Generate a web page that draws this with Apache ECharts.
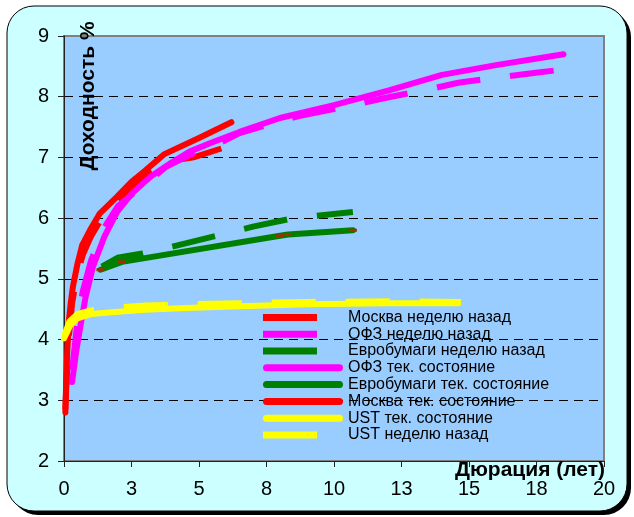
<!DOCTYPE html>
<html>
<head>
<meta charset="utf-8">
<script src="https://cdn.jsdelivr.net/npm/echarts@6/dist/echarts.min.js"></script>
<style>
  html, body { margin: 0; padding: 0; background: #fff; }
  #chart { width: 634px; height: 517px; }
</style>
</head>
<body>
<div id="chart"></div>
<script>
// Yield curves: duration (years) vs yield (%)
const seriesNames = [
  'Москва неделю назад',
  'ОФЗ неделю назад',
  'Евробумаги неделю назад',
  'ОФЗ тек. состояние',
  'Евробумаги тек. состояние',
  'Москва тек. состояние',
  'UST тек. состояние',
  'UST неделю назад'
];

const moscowWeekAgo = [
  [0.05, 2.85], [0.15, 3.9], [0.3, 4.6], [0.5, 5.1], [0.7, 5.4], [1.0, 5.7],
  [1.4, 6.0], [2.0, 6.3], [2.6, 6.55], [3.2, 6.75], [4.0, 6.95], [4.8, 7.0], [6.2, 7.2]
];
const ofzWeekAgo = [
  [0.3, 3.5], [0.5, 4.3], [0.7, 4.8], [1.0, 5.3], [1.5, 5.85], [2.0, 6.2],
  [3.1, 6.6], [3.8, 6.85], [4.7, 7.05], [5.6, 7.2], [6.5, 7.4], [8.0, 7.6],
  [8.7, 7.68], [10.7, 7.86], [11.8, 7.97], [13.7, 8.14], [14.6, 8.23],
  [16.3, 8.33], [17.4, 8.39], [18.7, 8.46]
];
const euroWeekAgo = [
  [1.4, 5.2], [2.0, 5.35], [2.9, 5.42], [4.0, 5.53], [6.0, 5.75], [7.0, 5.86],
  [8.5, 6.0], [10.7, 6.1]
];
const ofzNow = [
  [0.3, 3.3], [0.45, 3.8], [0.6, 4.2], [0.8, 4.7], [1.07, 5.2], [1.5, 5.7],
  [1.96, 6.1], [2.5, 6.4], [3.2, 6.68], [4.0, 6.92], [4.67, 7.1], [5.5, 7.25],
  [6.5, 7.42], [8.0, 7.65], [10.0, 7.86], [12.0, 8.1], [14.0, 8.36],
  [16.0, 8.52], [18.5, 8.7]
];
const euroNow = [
  [1.35, 5.15], [2.15, 5.28], [8.0, 5.71], [8.3, 5.73], [10.7, 5.8]
];
const moscowNow = [
  [0.05, 2.8], [0.08, 3.3], [0.12, 3.8], [0.18, 4.3], [0.25, 4.6], [0.33, 4.87],
  [0.5, 5.25], [0.67, 5.55], [0.96, 5.8], [1.33, 6.08], [1.96, 6.35], [2.5, 6.6],
  [3.0, 6.78], [3.7, 7.05], [5.0, 7.32], [6.2, 7.58]
];
const ustNow = [
  [0.0, 4.02], [0.25, 4.25], [0.5, 4.35], [1.0, 4.42], [2.0, 4.46], [3.0, 4.49],
  [4.5, 4.52], [6.5, 4.55], [9.0, 4.58], [12.0, 4.6], [14.6, 4.6]
];
const ustWeekAgo = [
  [0.0, 4.05], [0.2, 4.3], [0.5, 4.42], [1.0, 4.48], [2.0, 4.53], [3.0, 4.56],
  [4.5, 4.58], [6.5, 4.6], [9.0, 4.62], [12.0, 4.63], [14.7, 4.62]
];

const xTitle = 'Дюрация (лет)';
const yTitle = 'Доходность %';

const FONT = '"Liberation Sans", Arial, sans-serif';

// legend swatches: rounded bar for current curves, short block for last week's
const solidIcon = 'path://M3.5,0h73a3.5,3.5 0 0 1 0,7h-73a3.5,3.5 0 0 1 0,-7z';
const dashIcon = 'path://M80,0M0,0h54v7h-54z';

function dashedSeries(name, data, color) {
  return {
    name, type: 'line', data, showSymbol: false, symbol: 'none', animation: false,
    lineStyle: { color, width: 6, type: [44, 30], cap: 'butt', join: 'miter' },
    itemStyle: { color }
  };
}
function solidSeries(name, data, color) {
  return {
    name, type: 'line', data, showSymbol: false, symbol: 'none', animation: false,
    lineStyle: { color, width: 6, type: 'solid', cap: 'round', join: 'round' },
    itemStyle: { color }
  };
}

const series = [
  dashedSeries(seriesNames[0], moscowWeekAgo, '#ff0000'),
  dashedSeries(seriesNames[1], ofzWeekAgo, '#ff00ff'),
  dashedSeries(seriesNames[2], euroWeekAgo, '#008000'),
  solidSeries(seriesNames[3], ofzNow, '#ff00ff'),
  Object.assign(solidSeries(seriesNames[4], euroNow, '#008000'), {
    showSymbol: true, symbol: 'rect', symbolSize: [8, 3],
    itemStyle: { color: '#993300' }
  }),
  solidSeries(seriesNames[5], moscowNow, '#ff0000'),
  solidSeries(seriesNames[6], ustNow, '#ffff00'),
  dashedSeries(seriesNames[7], ustWeekAgo, '#ffff00')
];

const legendColors = ['#ff0000', '#ff00ff', '#008000', '#ff00ff', '#008000', '#ff0000', '#ffff00', '#ffff00'];
const legendDashed = [true, true, true, false, false, false, false, true];

const chart = echarts.init(document.getElementById('chart'), null, { renderer: 'canvas' });

chart.setOption({
  backgroundColor: '#ffffff',
  animation: false,
  textStyle: { fontFamily: FONT },
  graphic: [
    { type: 'rect', z: -20, shape: { x: 11, y: 10, width: 620, height: 505, r: 27 },
      style: { fill: '#000000' } },
    { type: 'rect', z: -19, shape: { x: 7, y: 6, width: 620, height: 505, r: 27 },
      style: { fill: '#ccffff', stroke: '#000000', lineWidth: 1 } },
    { type: 'text', z: 10, x: 88, y: 96, rotation: Math.PI / 2,
      style: { text: yTitle, font: 'bold 21px ' + FONT, fill: '#000', align: 'center', verticalAlign: 'middle' } },
    { type: 'text', z: 10, x: 605, y: 460,
      style: { text: xTitle, font: 'bold 21px ' + FONT, fill: '#000', align: 'right', verticalAlign: 'alphabetic' } }
  ],
  grid: {
    left: 64, top: 36, right: 30, bottom: 56,
    show: true, backgroundColor: '#99ccff', borderColor: '#808080', borderWidth: 2
  },
  legend: {
    orient: 'vertical', left: 258, top: 304,
    itemWidth: 80, itemHeight: 7, itemGap: 0,
    selectedMode: false,
    textStyle: { fontFamily: FONT, fontSize: 16, color: '#000', lineHeight: 16.8 },
    data: seriesNames.map((n, i) => ({
      name: n,
      icon: legendDashed[i] ? dashIcon : solidIcon,
      itemStyle: { color: legendColors[i], borderWidth: 0 },
      lineStyle: { width: 0 }
    }))
  },
  xAxis: {
    type: 'value', min: 0, max: 20, interval: 2.5,
    axisLine: { show: true, lineStyle: { color: '#222', width: 1 } },
    axisTick: { show: true, inside: false, length: 6, lineStyle: { color: '#222' } },
    axisLabel: { fontSize: 20, color: '#000', margin: 18, fontFamily: FONT,
      formatter: v => String(Math.round(v)) },
    splitLine: { show: false }
  },
  yAxis: {
    type: 'value', min: 2, max: 9, interval: 1,
    axisLine: { show: true, lineStyle: { color: '#222', width: 1 } },
    axisTick: { show: true, inside: false, length: 6, lineStyle: { color: '#222' } },
    axisLabel: { fontSize: 20, color: '#000', margin: 15, fontFamily: FONT },
    splitLine: { show: true, showMinLine: false, showMaxLine: false,
      lineStyle: { color: '#000', width: 1, type: [9, 6] } }
  },
  series
});
</script>
</body>
</html>
